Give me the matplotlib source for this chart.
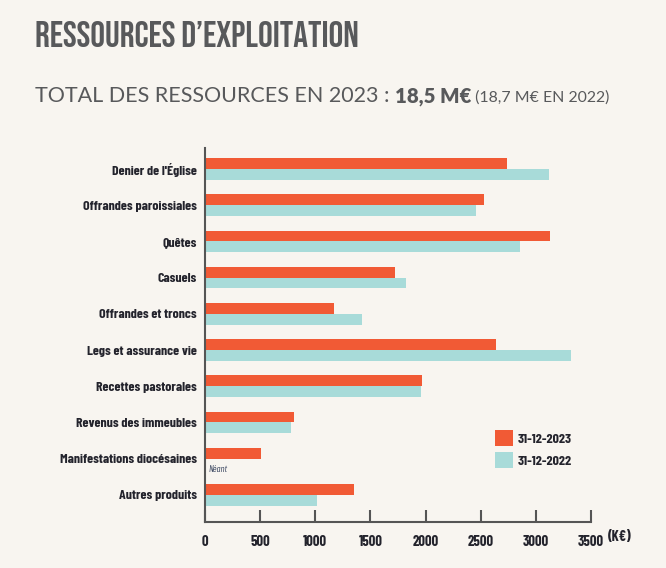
import matplotlib
matplotlib.use("Agg")
import matplotlib.pyplot as plt
from matplotlib.patches import Patch

categories = ["Denier de l'Église", "Offrandes paroissiales", "Quêtes", "Casuels",
              "Offrandes et troncs", "Legs et assurance vie", "Recettes pastorales",
              "Revenus des immeubles", "Manifestations diocésaines", "Autres produits"]
values_2023 = [2740, 2530, 3130, 1720, 1170, 2640, 1965, 805, 505, 1350]
values_2022 = [3120, 2455, 2855, 1820, 1425, 3320, 1955, 780, 0, 1015]
series_labels = ["31-12-2023", "31-12-2022"]
xticks = [0, 500, 1000, 1500, 2000, 2500, 3000, 3500]

BG = "#f8f5f0"
ORANGE = "#f15a35"
TEAL = "#a8dbd9"
DARK = "#23232c"
GREY = "#58595b"
COND = ["Barlow Condensed", "DejaVu Sans"]
TITLE_F = ["Bebas Neue", "Oswald", "Barlow Condensed", "DejaVu Sans"]
SUB_F = ["Lato", "DejaVu Sans"]

fig = plt.figure(figsize=(6.66, 5.68), dpi=100, facecolor=BG)
ax = fig.add_axes([205/666, 1-522/568, (591-205)/666, (522-148)/568])
ax.set_facecolor(BG)

ys = list(range(len(categories)))
h = 0.30
ax.barh([y - h/2 for y in ys], values_2023, height=h, color=ORANGE, label=series_labels[0])
ax.barh([y + h/2 for y in ys], values_2022, height=h, color=TEAL, label=series_labels[1])

ax.set_ylim(len(categories) - 1 + 0.75, -0.58)
ax.set_xlim(0, 3500)
ax.set_yticks(ys)
ax.set_yticklabels(categories, family=COND, fontweight="bold", fontsize=10, color=DARK)
ax.tick_params(axis="y", length=0, pad=6)
ax.set_xticks(xticks)
ax.set_xticklabels([str(t) for t in xticks], family=COND, fontweight="bold", fontsize=10.5, color=DARK)
ax.tick_params(axis="x", direction="in", length=9, width=1.5, color="#555555", pad=9)
for s in ["top", "right"]:
    ax.spines[s].set_visible(False)
for s in ["left", "bottom"]:
    ax.spines[s].set_color("#555555")
    ax.spines[s].set_linewidth(1.5)

ax.text(1.075, -0.041, "(K€)", transform=ax.transAxes, ha="center", va="center",
        family=COND, fontweight="bold", fontsize=10.5, color=DARK)

# Néant marker for missing 2022 value
idx = categories.index("Manifestations diocésaines")
ax.text(30, idx + 0.3, "Néant", ha="left", va="center", fontsize=7,
        family=COND, style="italic", color="#3a4660")

handles = [Patch(facecolor=ORANGE), Patch(facecolor=TEAL)]
ax.legend(handles, series_labels, loc="upper left", bbox_to_anchor=(0.75, 0.245),
          frameon=False, handlelength=1.3, handleheight=1.3, handletextpad=0.35,
          labelspacing=0.5, prop={"family": COND, "weight": "bold", "size": 10},
          labelcolor=DARK, borderpad=0, borderaxespad=0)

# Titles
fig.text(35/666, 1-47/568, "RESSOURCES D\u2019EXPLOITATION", ha="left", va="baseline",
         family=TITLE_F, fontsize=26.5, color=GREY)

fig.canvas.draw()
r = fig.canvas.get_renderer()
yb = 1-102/568
parts = [("TOTAL DES RESSOURCES EN 2023 : ", "normal", 35, 395),
         ("18,5 M€", "heavy", None, 472),
         (" (18,7 M€ EN 2022)", "normal", None, 610)]
x = 35
for txt, w, start, end in parts:
    if start is not None:
        x = start
    t = fig.text(x/666, yb, txt, ha="left", va="baseline", family=SUB_F,
                 fontweight=w, fontsize=16, color=GREY)
    bb = t.get_window_extent(renderer=r)
    fs = 16 * (end - x) / bb.width
    t.set_fontsize(fs)
    bb = t.get_window_extent(renderer=r)
    x += bb.width

fig.savefig("out.png", dpi=100, facecolor=BG)
